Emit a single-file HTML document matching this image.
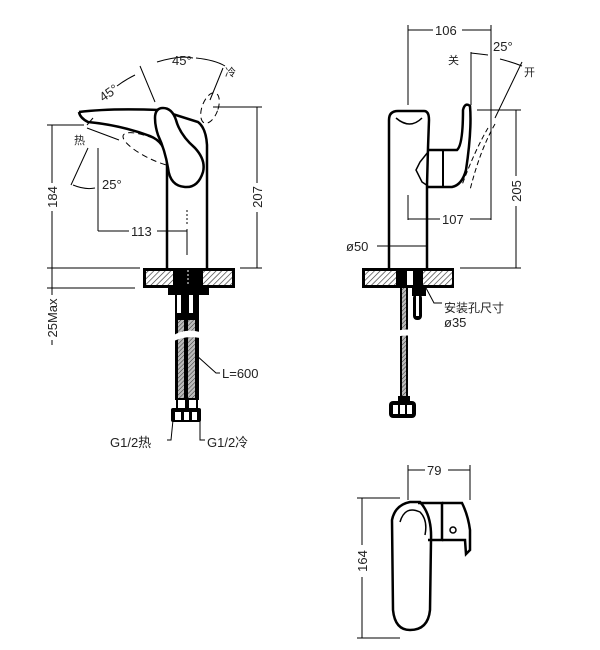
<!DOCTYPE html>
<html><head><meta charset="utf-8"><style>
html,body{margin:0;padding:0;background:#fff;}
svg{display:block;}
text{font-family:"Liberation Sans","Noto Sans CJK SC",sans-serif;fill:#222;}
</style></head><body>
<svg width="600" height="650" viewBox="0 0 600 650" xmlns="http://www.w3.org/2000/svg">
<defs>
<pattern id="h" width="4" height="4" patternUnits="userSpaceOnUse" patternTransform="rotate(45)">
<rect width="4" height="4" fill="#fff"/><line x1="0" y1="0" x2="0" y2="4" stroke="#333" stroke-width="1.3"/></pattern>
<pattern id="hs" width="3" height="3" patternUnits="userSpaceOnUse" patternTransform="rotate(45)">
<rect width="3" height="3" fill="#bbb"/><line x1="0" y1="0" x2="0" y2="3" stroke="#333" stroke-width="1"/></pattern>
</defs>
<g fill="none" stroke="#000" stroke-width="1">
<line x1="52" y1="125" x2="52" y2="183"/><line x1="52" y1="211" x2="52" y2="268"/>
<line x1="47" y1="125" x2="84" y2="125"/>
<line x1="47" y1="268" x2="140" y2="268"/>
<line x1="52" y1="268" x2="52" y2="295"/><line x1="52" y1="340" x2="52" y2="345"/>
<line x1="47" y1="288" x2="135" y2="288"/>
<line x1="257" y1="107" x2="257" y2="183"/><line x1="257" y1="212" x2="257" y2="268"/>
<line x1="213" y1="107" x2="262" y2="107"/><line x1="240" y1="268" x2="262" y2="268"/>
<line x1="98" y1="148" x2="98" y2="231"/><line x1="98" y1="231" x2="129" y2="231"/><line x1="157" y1="231" x2="187" y2="231"/>
<line x1="187" y1="229" x2="187" y2="255"/>
<line x1="87" y1="128" x2="119" y2="140"/>
<line x1="88" y1="148" x2="71" y2="185"/>
<path d="M73 185 Q85 190 95 188"/>
<line x1="140" y1="66" x2="155" y2="102"/>
<line x1="223" y1="68" x2="210" y2="100"/>
<path d="M117 86 Q125 80 135 75"/><path d="M157 62 Q180 55 193 58"/><path d="M196 58 Q215 60 225 66"/>
<path d="M87 125 L93 118"/>
<line x1="408" y1="25" x2="408" y2="105"/><line x1="491" y1="25" x2="491" y2="220"/>
<line x1="408" y1="30" x2="433" y2="30"/><line x1="462" y1="30" x2="491" y2="30"/>
<line x1="408" y1="195" x2="408" y2="220"/>
<line x1="408" y1="219" x2="440" y2="219"/><line x1="470" y1="219" x2="491" y2="219"/>
<line x1="516" y1="110" x2="516" y2="176"/><line x1="516" y1="206" x2="516" y2="268"/>
<line x1="477" y1="110" x2="521" y2="110"/><line x1="460" y1="268" x2="521" y2="268"/>
<line x1="471" y1="52" x2="471" y2="105"/>
<path d="M471 53 Q480 54 488 55"/><path d="M500 59 Q512 62 522 66"/>
<line x1="522" y1="62" x2="495" y2="118"/>
<line x1="377" y1="246" x2="428" y2="246"/>
<path d="M426 288 L434 303 L442 303"/>
<line x1="362" y1="498" x2="362" y2="545"/><line x1="362" y1="577" x2="362" y2="638"/>
<line x1="357" y1="498" x2="400" y2="498"/><line x1="357" y1="638" x2="400" y2="638"/>
<line x1="408" y1="465" x2="408" y2="500"/><line x1="470" y1="465" x2="470" y2="500"/>
<line x1="408" y1="470" x2="425" y2="470"/><line x1="448" y1="470" x2="470" y2="470"/>
<path d="M196 355 L216 373 L220 373"/>
<path d="M173 420 L171 440 L167 440"/><path d="M200 420 L200 440 L205 440"/>
</g>

<g stroke="#000" fill="none">
<path d="M79 112 Q110 108 160 110 L198 122 Q206 128 207 145 L207 268" stroke-width="2.5"/>
<path d="M79 112 Q80 118 88 122 Q120 125 150 136 Q165 142 167 160 L167 268" stroke-width="2.5"/>
<ellipse cx="155" cy="150" rx="10" ry="35" transform="rotate(-65 155 150)" stroke-dasharray="6 4"/>
<ellipse cx="210" cy="108" rx="8" ry="16" transform="rotate(20 210 108)" stroke-dasharray="6 4"/>
<path d="M155 118 Q155 108 163 108 Q172 108 176 120 Q180 135 195 148 Q206 160 203 172 Q198 188 185 187 Q170 186 168 168 Q165 150 158 135 Q155 126 155 118 Z" stroke-width="2.5" fill="#fff"/>
<line x1="187" y1="210" x2="187" y2="225" stroke-dasharray="2 2" stroke-width="1"/>
</g>
<rect x="143" y="268" width="92" height="20" fill="#000"/>
<rect x="146" y="271" width="27" height="14" fill="url(#h)"/>
<rect x="203" y="271" width="29" height="14" fill="url(#h)"/>
<line x1="188" y1="270" x2="188" y2="286" stroke="#fff" stroke-dasharray="2 2"/>
<rect x="168" y="288" width="41" height="7" fill="#000"/>
<rect x="175" y="295" width="24" height="25" fill="#000"/>
<rect x="177" y="295" width="4" height="18" fill="#fff"/><rect x="189" y="295" width="4" height="18" fill="#fff"/>
<rect x="175" y="318" width="24" height="82" fill="#000"/>
<rect x="178" y="320" width="6" height="78" fill="url(#hs)"/><rect x="188" y="320" width="7" height="78" fill="url(#hs)"/>
<path d="M172 336 Q185 328 200 332 L200 338 Q185 335 172 342 Z" fill="#fff"/>
<rect x="176" y="398" width="22" height="12" fill="#000"/>
<rect x="178" y="400" width="7" height="8" fill="#fff"/><rect x="189" y="400" width="7" height="8" fill="#fff"/>
<rect x="171" y="408" width="30" height="14" rx="2" fill="#000"/>
<rect x="175" y="412" width="6" height="8" fill="#fff"/><rect x="184" y="412" width="5" height="8" fill="#fff"/><rect x="192" y="412" width="5" height="8" fill="#fff"/>

<g stroke="#000" fill="none" stroke-width="2.5">
<path d="M389 268 L389 120 Q389 111 398 111 L424 111 Q429 111 429 120 L428 148 L427 185 L427 268"/>
<path d="M396 118 Q410 130 422 118" stroke-width="1.5"/>
<path d="M428 150 L457 150 Q463 145 463 110 Q465 102 470 106 Q472 130 466 170 Q462 185 452 187 L428 187"/>
<path d="M428 152 L420 162 L416 170 L422 182 L428 186" stroke-width="1.5"/>
<line x1="443" y1="150" x2="443" y2="187" stroke-width="2"/>
</g>
<path d="M495 124 Q480 150 470 190" stroke="#000" fill="none" stroke-dasharray="5 3"/>
<path d="M488 128 Q475 150 462 185" stroke="#000" fill="none" stroke-dasharray="5 3"/>
<rect x="362" y="268" width="92" height="20" fill="#000"/>
<rect x="365" y="271" width="31" height="14" fill="url(#h)"/>
<rect x="423" y="271" width="29" height="14" fill="url(#h)"/>
<rect x="407" y="271" width="6" height="14" fill="#fff"/>
<rect x="400" y="288" width="8" height="110" fill="#000"/>
<rect x="402" y="288" width="4" height="108" fill="url(#hs)"/>
<rect x="412" y="288" width="14" height="8" fill="#000"/>
<rect x="413" y="294" width="9" height="26" rx="4" fill="#000"/>
<rect x="416" y="296" width="3" height="20" fill="#fff"/>
<path d="M388 334 Q400 328 414 330 L414 336 Q400 334 388 340 Z" fill="#fff"/>
<rect x="398" y="396" width="12" height="6" fill="#000"/>
<rect x="389" y="401" width="27" height="17" rx="4" fill="#000"/>
<rect x="393" y="405" width="5" height="9" fill="#fff"/><rect x="400" y="405" width="5" height="9" fill="#fff"/><rect x="407" y="405" width="5" height="9" fill="#fff"/>

<g stroke="#000" fill="none" stroke-width="2.5">
<path d="M410 502 Q395 505 392 520 L393 610 Q395 630 410 630 Q428 630 430 610 L431 540 Q432 515 420 502 Z"/>
<path d="M400 522 Q405 505 420 512 Q428 520 425 535" stroke-width="1.5"/>
<path d="M418 503 L442 503 L442 540 L428 540"/>
<path d="M442 503 L462 503 Q468 515 470 530 L470 550 L466 554 L465 540 L442 540"/>
</g>
<circle cx="453" cy="530" r="3" stroke="#000" fill="none" stroke-width="1.5"/>

<g font-size="13">
<text x="172" y="65">45°</text>
<text x="100" y="100" transform="rotate(-35 105 96)">45°</text>
<text x="225" y="76" font-size="11">冷</text>
<text x="74" y="144" font-size="11">热</text>
<text x="102" y="189">25°</text>
<text x="131" y="236">113</text>
<text x="0" y="0" transform="translate(57,197) rotate(-90)" text-anchor="middle">184</text>
<text x="0" y="0" transform="translate(262,197) rotate(-90)" text-anchor="middle">207</text>
<text x="0" y="0" transform="translate(57,318) rotate(-90)" text-anchor="middle">25Max</text>
<text x="222" y="378">L=600</text>
<text x="110" y="447">G1/2热</text>
<text x="207" y="447">G1/2冷</text>
<text x="435" y="35">106</text>
<text x="493" y="51">25°</text>
<text x="448" y="64" font-size="11">关</text>
<text x="524" y="76" font-size="11">开</text>
<text x="442" y="224">107</text>
<text x="0" y="0" transform="translate(521,191) rotate(-90)" text-anchor="middle">205</text>
<text x="346" y="251">ø50</text>
<text x="444" y="312" font-size="12">安装孔尺寸</text>
<text x="444" y="327">ø35</text>
<text x="427" y="475">79</text>
<text x="0" y="0" transform="translate(367,561) rotate(-90)" text-anchor="middle">164</text>
</g>
</svg>
</body></html>
